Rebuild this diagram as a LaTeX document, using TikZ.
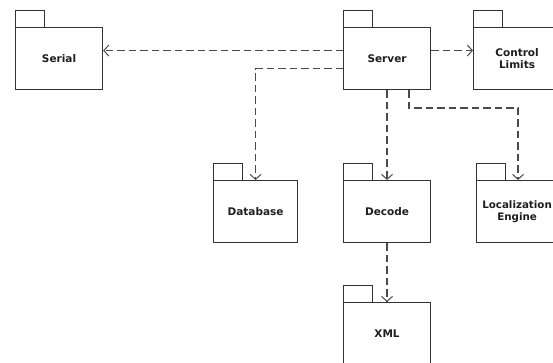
\documentclass[tikz,border=0pt]{standalone}
\usepackage{fontspec}
\setmainfont{DejaVu Sans}
\usetikzlibrary{arrows.meta,calc}
\definecolor{boxline}{HTML}{333333}
\definecolor{depline}{HTML}{4A4A4A}
\definecolor{txt}{HTML}{1E1E1E}
\begin{document}
\begin{tikzpicture}[x=1pt,y=-1pt,
  pkg/.style={draw=boxline, line width=1.1pt, fill=white, minimum width=87pt, minimum height=62pt,
    anchor=north west, inner sep=0pt, align=center, text=txt,
    font=\fontsize{10.5}{12.5}\selectfont\bfseries},
  pkgtext/.style={inner sep=0pt, align=center, text=txt,
    font=\fontsize{10.3}{12.5}\selectfont\bfseries},
  tabbox/.style={draw=boxline, line width=0.9pt},
  dep/.style={draw=depline, line width=1.2pt, dash pattern=on 7.5pt off 4pt,
    -{Straight Barb[length=5pt,width=11pt,line width=1pt]}}
]
\useasboundingbox (0,0) rectangle (553,363);
\clip (0,0) rectangle (553,363);
\node[pkg] (serial) at (15,27) {Serial};
\node[pkg] (server) at (343,27) {Server};
\node[pkg] (ctrl) at (473,27) {Control\\Limits};
\node[pkg, minimum width=84pt] (db) at (213,180) {Database};
\node[pkg] (decode) at (343,180) {Decode};
\node[pkg] (loc) at (476,180) {};
\node[pkgtext] (loctext) at ([xshift=-3pt]loc.center) {Localization\\Engine};
\node[pkg] (xml) at (343,302) {XML};
\foreach \n in {serial,server,ctrl,db,decode,loc,xml}{
  \draw[tabbox] (\n.north west) rectangle ++(29,-17);
}
\draw[dep] ([yshift=8pt]server.west) -- ([yshift=8pt]serial.east);
\draw[dep] ([yshift=8pt]server.east) -- ([yshift=8pt]ctrl.west);
\draw[dep] ([yshift=-10pt]server.west) -| (db.north);
\draw[dep] (server.south) -- (decode.north);
\draw[dep] ([xshift=22pt]server.south) -- ++(0,18) -| ([xshift=-2pt]loc.north);
\draw[dep] (decode.south) -- (xml.north);
\end{tikzpicture}
\end{document}
